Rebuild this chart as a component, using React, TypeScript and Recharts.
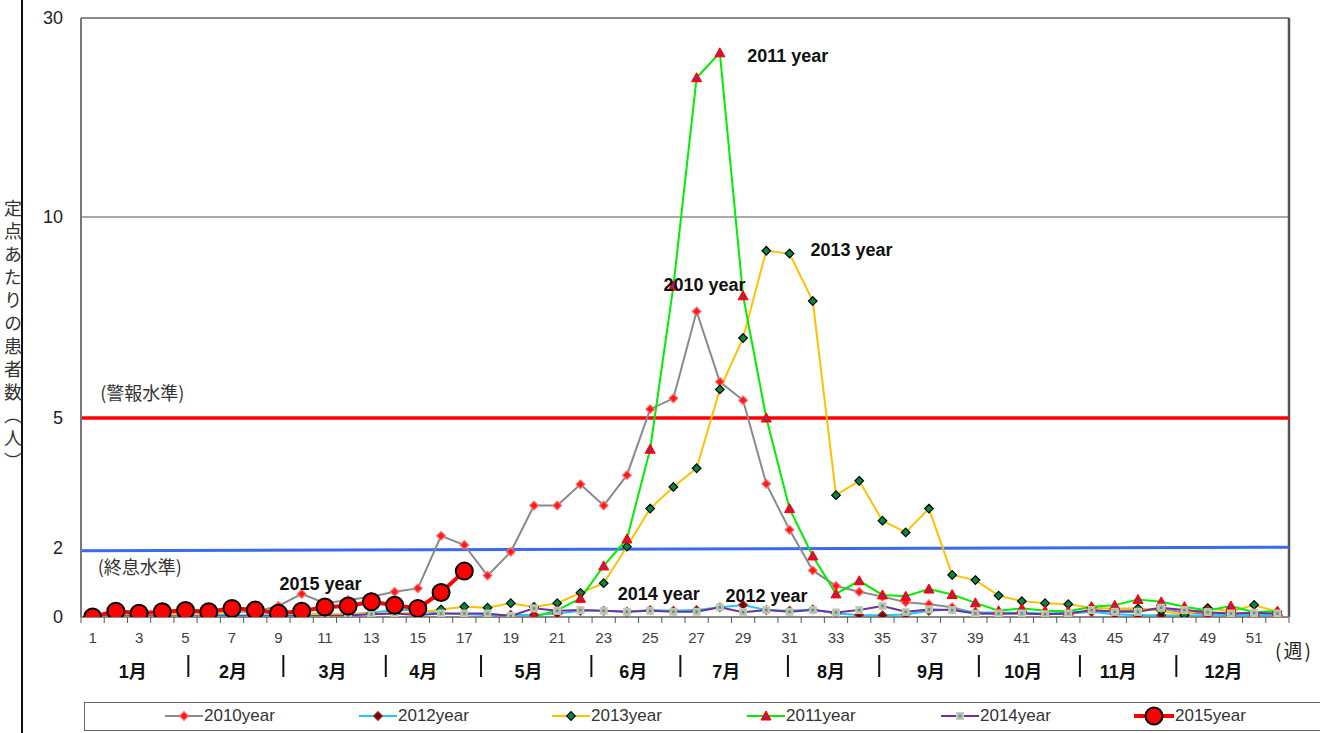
import { LineChart, Line, XAxis, YAxis, ReferenceLine, ReferenceDot, Legend } from 'recharts';

const WEEKS = Array.from({ length: 52 }, (_, i) => i + 1);
const WEEK_LABELS = WEEKS.filter((w) => w % 2 === 1);
const WEEK_EDGES = [...WEEKS.map((w) => w - 0.5), 52.5];

// the source axis is stretched piece by piece between its ticks
const Y_TICKS = [0, 2, 5, 10, 30];
const Y_SPAN = [0, 69, 199, 400, 599];

const MONTHS = ['1月', '2月', '3月', '4月', '5月', '6月', '7月', '8月', '9月', '10月', '11月', '12月'];
const MONTH_AT = [2.73, 7.04, 11.33, 15.23, 19.76, 24.27, 28.28, 32.78, 37.09, 41.06, 45.15, 49.68];
const MONTH_BREAKS = [5.12, 9.21, 13.62, 17.72, 22.47, 26.3, 30.93, 34.86, 39.15, 43.5, 47.65];
const UNIT_AT = 51.9;

const Y2010 = [
  0.05, 0.1, 0.1, 0.12, 0.1, 0.12, 0.15, 0.15, 0.32, 0.67, 0.4, 0.49, 0.59, 0.73, 0.83, 2.28, 2.07, 1.2,
  1.89, 2.98, 2.98, 3.47, 2.98, 3.68, 5.22, 5.49, 7.65, 5.9, 5.44, 3.48, 2.42, 1.35, 0.9, 0.73, 0.59, 0.43,
  0.37, 0.28, 0.1, 0.1, 0.1, 0.08, 0.1, 0.15, 0.18, 0.2, 0.25, 0.12, 0.1, 0.08, 0.05, 0.05,
];
const Y2012 = [
  0.03, 0.05, 0.05, 0.1, 0.12, 0.08, 0.05, 0.05, 0.05, 0.05, 0.05, 0.08, 0.12, 0.2, 0.2, 0.1, 0.08, 0.06,
  0.06, 0.06, 0.1, 0.18, 0.18, 0.15, 0.2, 0.18, 0.2, 0.28, 0.35, 0.2, 0.18, 0.22, 0.1, 0.06, 0.05, 0.07,
  0.18, 0.22, 0.14, 0.12, 0.12, 0.1, 0.12, 0.15, 0.08, 0.05, 0.05, 0.04, 0.05, 0.04, 0.05, 0.04,
];
const Y2013 = [
  0.02, 0.05, 0.05, 0.08, 0.1, 0.1, 0.15, 0.22, 0.18, 0.1, 0.08, 0.08, 0.1, 0.1, 0.12, 0.22, 0.3, 0.27,
  0.4, 0.29, 0.4, 0.7, 0.98, 2.03, 2.91, 3.41, 3.84, 5.71, 6.99, 9.16, 9.09, 7.91, 3.22, 3.55, 2.63, 2.36,
  2.91, 1.22, 1.07, 0.62, 0.46, 0.4, 0.37, 0.27, 0.24, 0.25, 0.18, 0.06, 0.26, 0.16, 0.35, 0.15,
];
const Y2011 = [
  0, 0, 0, 0, 0, 0, 0, 0, 0, 0, 0, 0, 0, 0, 0, 0, 0, 0,
  0, 0, 0.2, 0.54, 1.48, 2.21, 4.28, 8.28, 24.0, 26.5, 8.04, 5.0, 2.91, 1.77, 0.67, 1.05, 0.64, 0.6,
  0.81, 0.65, 0.41, 0.18, 0.25, 0.18, 0.17, 0.3, 0.34, 0.51, 0.44, 0.3, 0.19, 0.32, 0.14, 0.17,
];
const Y2014 = [
  0, 0.02, 0.02, 0.02, 0.02, 0.02, 0.02, 0.02, 0.02, 0.02, 0.03, 0.04, 0.08, 0.1, 0.06, 0.1, 0.1, 0.1,
  0.03, 0.25, 0.18, 0.2, 0.18, 0.15, 0.18, 0.15, 0.15, 0.28, 0.14, 0.2, 0.15, 0.2, 0.13, 0.2, 0.32, 0.15,
  0.22, 0.2, 0.1, 0.1, 0.1, 0.08, 0.1, 0.2, 0.15, 0.15, 0.27, 0.2, 0.14, 0.1, 0.12, 0.1,
];
const Y2015 = [0, 0.17, 0.11, 0.15, 0.19, 0.15, 0.25, 0.2, 0.11, 0.17, 0.29, 0.32, 0.44, 0.34, 0.25, 0.71, 1.33];

const ALERT_LEVEL = 5;
const END_LEVEL = [1.92, 2.02];

const NOTES = [
  { text: '2011 year', week: 29.18, value: 26.2 },
  { text: '2013 year', week: 31.9, value: 9.18 },
  { text: '2010 year', week: 25.57, value: 8.31 },
  { text: '2014 year', week: 23.6, value: 0.67 },
  { text: '2012 year', week: 28.24, value: 0.61 },
  { text: '2015 year', week: 9.04, value: 0.98 },
];
const LEVEL_NOTES = [
  { text: '(警報水準)', week: 1.33, value: 5.6 },
  { text: '(終息水準)', week: 1.22, value: 1.42 },
];

const SERIES = [
  { key: 'y2010', name: '2010year', values: Y2010, color: '#8a8a8a', width: 2, marker: 'diamond', fill: '#ff1a1a', edge: '#ff6a6a' },
  { key: 'y2012', name: '2012year', values: Y2012, color: '#20c8f8', width: 2, marker: 'diamond', fill: '#7a0000', edge: '#a02020' },
  { key: 'y2013', name: '2013year', values: Y2013, color: '#ffc000', width: 2, marker: 'diamond', fill: '#008a40', edge: '#000000' },
  { key: 'y2011', name: '2011year', values: Y2011, color: '#00ee00', width: 2, marker: 'triangle', fill: '#ff0000', edge: '#ff0000' },
  { key: 'y2014', name: '2014year', values: Y2014, color: '#7030a0', width: 2, marker: 'square', fill: '#b4c4a8', edge: '#c8d0b8' },
  { key: 'y2015', name: '2015year', values: Y2015, color: '#ff0000', width: 4, marker: 'circle', fill: '#ff0000', edge: '#000000' },
];
const LEGEND_LEFT = [164, 358, 551, 746, 940, 1133];

const FONT = "'Liberation Sans', 'Noto Sans CJK JP', sans-serif";
const JP_FONT = "'Noto Sans CJK JP', sans-serif";

function warp(v: number) {
  for (let i = 1; i < Y_TICKS.length; i++) {
    if (v <= Y_TICKS[i] || i === Y_TICKS.length - 1) {
      const a = Y_TICKS[i - 1], b = Y_TICKS[i];
      return Y_SPAN[i - 1] + ((v - a) / (b - a)) * (Y_SPAN[i] - Y_SPAN[i - 1]);
    }
  }
  return 0;
}

const rows = WEEKS.map((week, i) => {
  const row: any = { week };
  SERIES.forEach((s) => {
    row[s.key] = i < s.values.length ? warp(s.values[i]) : null;
  });
  return row;
});

function Marker({ kind, cx, cy, fill, edge }: any) {
  if (kind === 'diamond') {
    const s = 4.3;
    return <polygon points={`${cx},${cy - s} ${cx + s},${cy} ${cx},${cy + s} ${cx - s},${cy}`} fill={fill} stroke={edge} strokeWidth={1.2} />;
  }
  if (kind === 'triangle') {
    const s = 5;
    return (
      <g>
        <polygon points={`${cx},${cy - s} ${cx + s},${cy + s * 0.8} ${cx - s},${cy + s * 0.8}`} fill={fill} stroke={edge} strokeWidth={1} />
        <polygon points={`${cx},${cy - 1.5} ${cx + 2},${cy + 2} ${cx - 2},${cy + 2}`} fill="#4a3fd8" />
      </g>
    );
  }
  if (kind === 'square') {
    return (
      <g>
        <rect x={cx - 3.5} y={cy - 3.5} width={7} height={7} fill={fill} stroke={edge} strokeWidth={1} />
        <rect x={cx - 1.2} y={cy - 1.2} width={2.4} height={2.4} fill="#5a8a9a" />
      </g>
    );
  }
  return <circle cx={cx} cy={cy} r={8.5} fill={fill} stroke={edge} strokeWidth={2} />;
}

function WeekTick({ x, y, payload }: any) {
  const v = payload.value;
  if (v % 1 !== 0) return <line x1={x} x2={x} y1={y} y2={y + 6} stroke="#555" strokeWidth={1} />;
  return (
    <text x={x} y={y + 20} textAnchor="middle" dominantBaseline="central" fontSize={15} fill="#404040">
      {v}
    </text>
  );
}

function MonthTick({ x, y, payload }: any) {
  const v = payload.value;
  const m = MONTH_AT.indexOf(v);
  if (m >= 0) {
    return (
      <text x={x} y={y + 25} textAnchor="middle" dominantBaseline="central" fontSize={18} fontWeight="bold" fill="#111">
        {MONTHS[m]}
      </text>
    );
  }
  if (v === UNIT_AT) {
    return (
      <text x={x} y={y + 2} textAnchor="start" dominantBaseline="central" fontSize={19} fill="#222" letterSpacing={2} fontFamily={JP_FONT}>
        (週)
      </text>
    );
  }
  return <line x1={x} x2={x} y1={y + 8} y2={y + 30} stroke="#111" strokeWidth={2} />;
}

function LegendBox() {
  return (
    <div style={{ position: 'relative', width: '100%', height: 29, boxSizing: 'border-box', border: '1.5px solid #666', borderRight: 'none', fontFamily: FONT }}>
      {SERIES.map((s, i) => {
        const w = s.marker === 'circle' ? 40 : 38;
        return (
          <div key={s.key} style={{ position: 'absolute', left: LEGEND_LEFT[i] - 84, top: 0, height: 26, display: 'flex', alignItems: 'center' }}>
            <svg width={w} height={20}>
              <line x1={0} x2={w} y1={10} y2={10} stroke={s.color} strokeWidth={s.width === 4 ? 4 : 2} />
              <Marker kind={s.marker} cx={w / 2} cy={10} fill={s.fill} edge={s.edge} />
            </svg>
            <span style={{ fontSize: 17, color: '#333', marginLeft: 1 }}>{s.name}</span>
          </div>
        );
      })}
    </div>
  );
}

export default function App() {
  return (
    <div style={{ position: 'relative', width: 1320, height: 733, fontFamily: FONT, background: '#fff', overflow: 'hidden' }}>
      <style>{'body{margin:0}'}</style>
      <div style={{ position: 'absolute', left: 21, top: 0, width: 2, height: 733, background: '#111' }} />
      <div
        style={{
          position: 'absolute',
          left: 4,
          top: 199,
          writingMode: 'vertical-rl',
          fontSize: 18,
          letterSpacing: 5,
          color: '#333',
          fontFamily: JP_FONT,
          lineHeight: 1,
        }}
      >
        定点あたりの患者数（人）
      </div>
      <LineChart width={1320} height={733} data={rows} margin={{ top: 18, right: 31, left: 41, bottom: 31 }}>
        <XAxis
          xAxisId="a"
          dataKey="week"
          type="number"
          domain={[0.5, 52.5]}
          allowDataOverflow
          ticks={[...WEEK_EDGES, ...WEEK_LABELS]}
          interval={0}
          height={30}
          tickSize={0}
          tickMargin={0}
          tickLine={false}
          axisLine={{ stroke: '#888', strokeWidth: 2 }}
          tick={(p: any) => <WeekTick {...p} />}
        />
        <XAxis
          xAxisId="b"
          dataKey="week"
          type="number"
          domain={[0.5, 52.5]}
          allowDataOverflow
          ticks={[...MONTH_AT, ...MONTH_BREAKS, UNIT_AT]}
          interval={0}
          height={55}
          tickSize={0}
          tickMargin={0}
          tickLine={false}
          axisLine={false}
          tick={(p: any) => <MonthTick {...p} />}
        />
        <YAxis
          type="number"
          domain={[0, Y_SPAN[Y_SPAN.length - 1]]}
          allowDataOverflow
          ticks={Y_SPAN}
          interval={0}
          width={40}
          tickSize={0}
          tickMargin={18}
          tickLine={false}
          axisLine={{ stroke: '#777', strokeWidth: 2 }}
          tickFormatter={(v: number) => String(Y_TICKS[Y_SPAN.indexOf(v)])}
          tick={{ fontSize: 18, fill: '#222' }}
        />
        <ReferenceLine xAxisId="a" y={warp(30)} stroke="#888" strokeWidth={2} />
        <ReferenceLine xAxisId="a" x={52.5} stroke="#555" strokeWidth={2.5} />
        <ReferenceLine xAxisId="a" y={warp(10)} stroke="#555" strokeWidth={1.2} />
        <ReferenceLine xAxisId="a" y={warp(ALERT_LEVEL)} stroke="#ff0000" strokeWidth={3.5} />
        <ReferenceLine
          xAxisId="a"
          segment={[
            { x: 0.5, y: warp(END_LEVEL[0]) },
            { x: 52.5, y: warp(END_LEVEL[1]) },
          ]}
          stroke="#3a6af0"
          strokeWidth={3}
        />
        {SERIES.map((s) => (
          <Line
            key={s.key}
            xAxisId="a"
            dataKey={s.key}
            name={s.name}
            stroke={s.color}
            strokeWidth={s.width}
            isAnimationActive={false}
            connectNulls={false}
            activeDot={false}
            dot={(p: any) =>
              p.cx == null || p.cy == null || p.value == null ? (
                <g key={`${s.key}-${p.index}`} />
              ) : (
                <g key={`${s.key}-${p.index}`}>
                  <Marker kind={s.marker} cx={p.cx} cy={p.cy} fill={s.fill} edge={s.edge} />
                </g>
              )
            }
          />
        ))}
        {NOTES.map((n) => (
          <ReferenceDot
            key={n.text}
            xAxisId="a"
            x={n.week}
            y={warp(n.value)}
            r={0}
            fill="none"
            stroke="none"
            label={{ value: n.text, position: 'right', offset: 0, fill: '#111', fontSize: 18, fontWeight: 'bold' }}
          />
        ))}
        {LEVEL_NOTES.map((n) => (
          <ReferenceDot
            key={n.text}
            xAxisId="a"
            x={n.week}
            y={warp(n.value)}
            r={0}
            fill="none"
            stroke="none"
            label={{ value: n.text, position: 'right', offset: 0, fill: '#333', fontSize: 18, fontFamily: JP_FONT }}
          />
        ))}
        <Legend
          verticalAlign="middle"
          align="center"
          wrapperStyle={{ top: 702, left: 84, width: 1236, height: 29 }}
          content={() => <LegendBox />}
        />
      </LineChart>
    </div>
  );
}
